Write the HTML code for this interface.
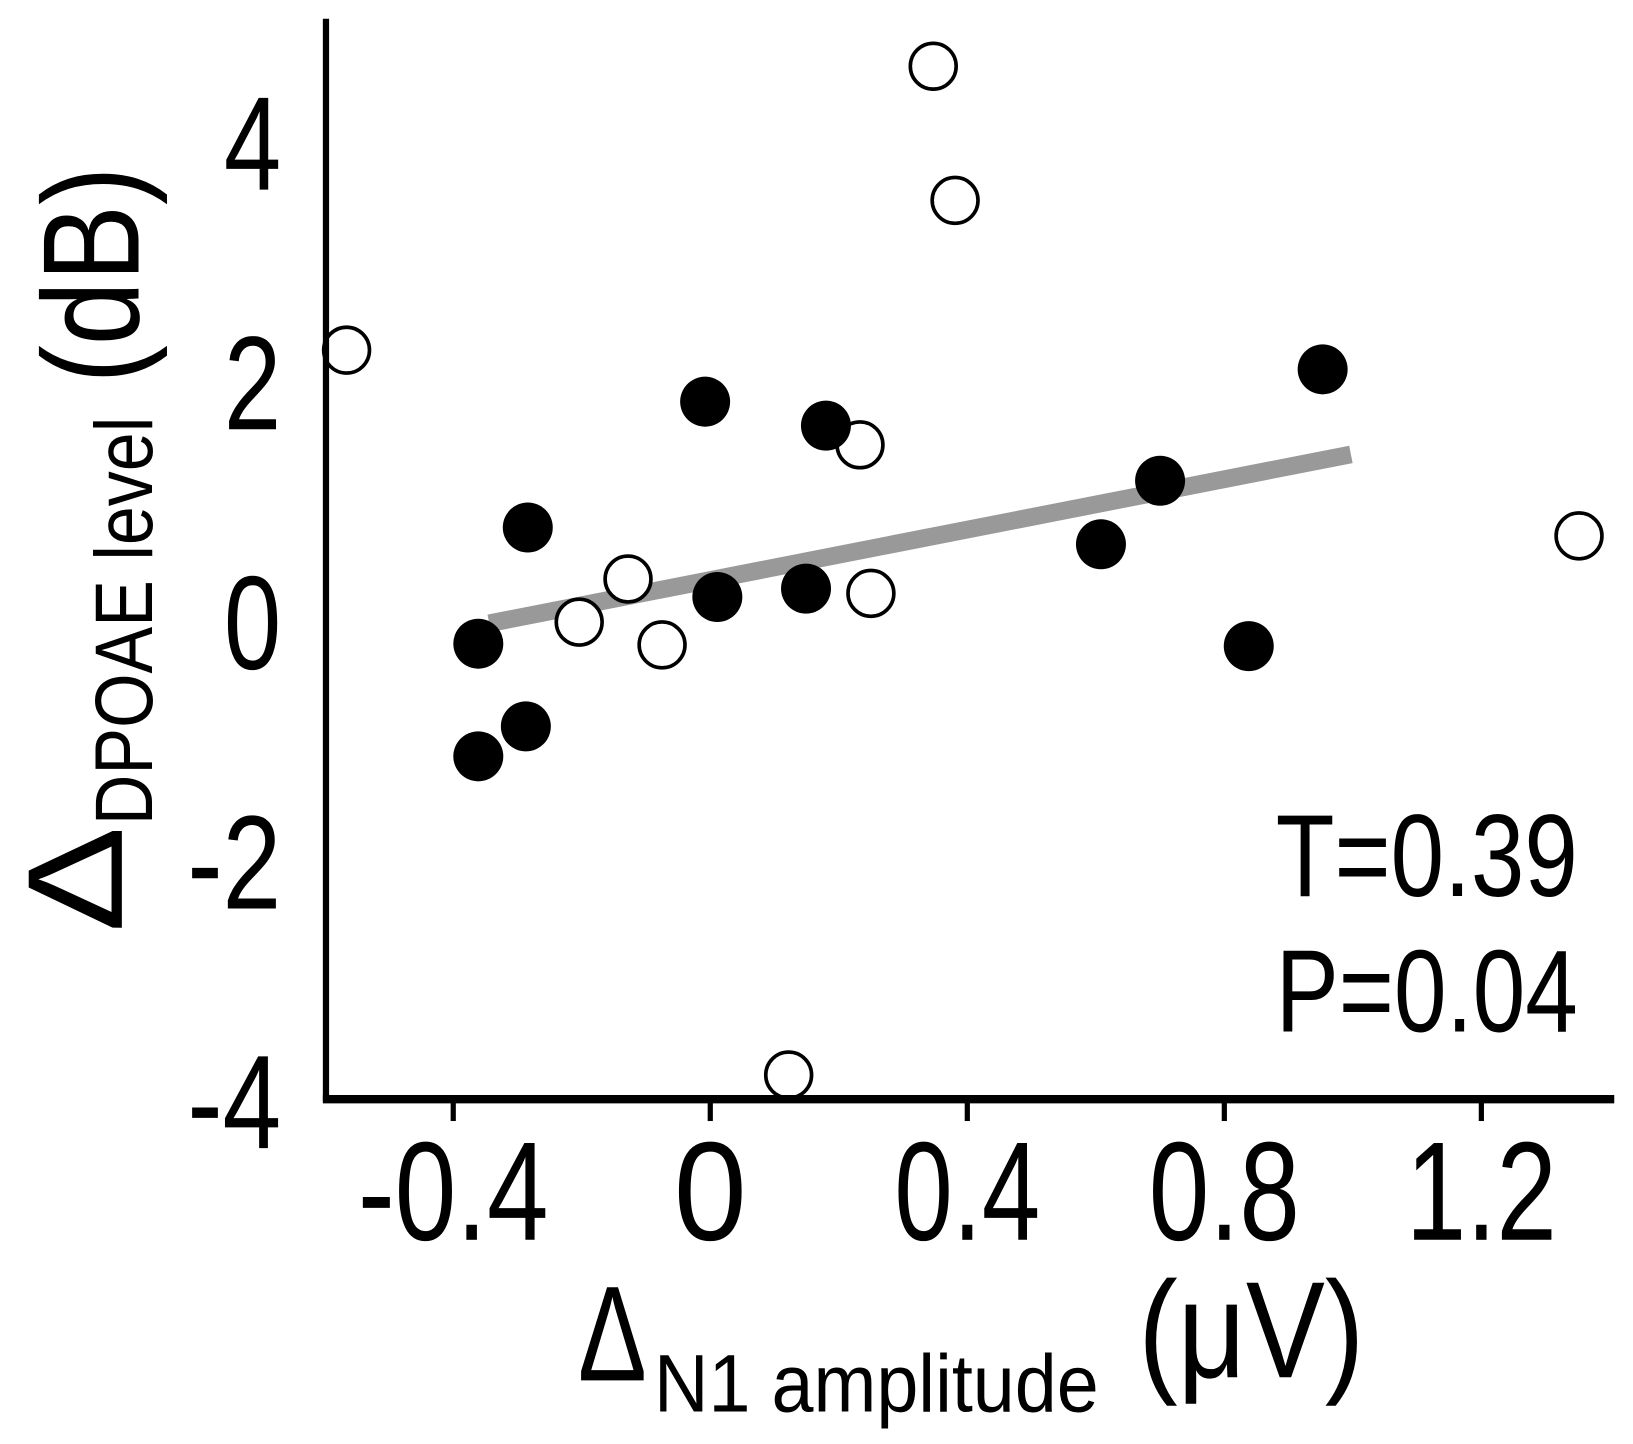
<!DOCTYPE html>
<html><head><meta charset="utf-8"><style>html,body{margin:0;padding:0;background:#fff}svg{display:block}text{font-family:"Liberation Sans",sans-serif;fill:#000}</style></head>
<body>
<svg id="chart" width="1633" height="1444" viewBox="0 0 1568 1386" preserveAspectRatio="none" xmlns="http://www.w3.org/2000/svg">
<rect width="1568" height="1386" fill="#fff"/>
<g id="marks"></g>
<g id="axes"></g>
</svg>
<script>
const xTicks=[-0.4,0,0.4,0.8,1.2];
const xTickLabels=["-0.4","0","0.4","0.8","1.2"];
const yTicks=[4,2,0,-2,-4];
const yTickLabels=["4","2","0","-2","-4"];
const openX=[-0.566,0.347,0.381,0.233,-0.128,-0.204,-0.075,0.25,1.352,0.122];
const openY=[2.26,4.63,3.51,1.47,0.35,-0.01,-0.2,0.23,0.71,-3.79];
const filledX=[-0.361,-0.361,-0.287,-0.284,-0.008,0.011,0.149,0.18,0.608,0.7,0.838,0.953];
const filledY=[-0.19,-1.13,-0.88,0.78,1.83,0.2,0.27,1.63,0.64,1.17,-0.21,2.1];
const fitX=[-0.344,0.997];
const fitY=[-0.02,1.39];

const NS="http://www.w3.org/2000/svg";
function X(v){return 682+v*617;}
function Y(v){return 596-v*115;}
const marks=document.getElementById('marks');
const axes=document.getElementById('axes');
function mk(tag,attrs,parent,txt){const e=document.createElementNS(NS,tag);for(const k in attrs)e.setAttribute(k,attrs[k]);if(txt!==undefined)e.textContent=txt;parent.appendChild(e);return e;}

let yl=mk('line',{x1:313,y1:18,x2:313,y2:1057,stroke:'#000','stroke-width':6},axes);


let xl=mk('line',{x1:310,y1:1055,x2:1550,y2:1055,stroke:'#000','stroke-width':8},axes);


const xw=[183,70,140,145,145];
xTicks.forEach((t,i)=>{
  let l=mk('line',{x1:X(t),y1:1055,x2:X(t),y2:1076,stroke:'#000','stroke-width':5},axes);
  
  
  let tx=mk('text',{x:X(t),y:1190,'font-size':135,'text-anchor':'middle',textLength:xw[i],lengthAdjust:'spacingAndGlyphs'},axes,xTickLabels[i]);
  
  
});
yTicks.forEach((t,i)=>{
  let tx=mk('text',{x:270,y:Y(t)+46,'font-size':128,'text-anchor':'end',textLength:yTickLabels[i].length>1?90:55,lengthAdjust:'spacingAndGlyphs'},axes,yTickLabels[i]);
  
  
});

let fl=mk('line',{x1:X(fitX[0]),y1:Y(fitY[0]),x2:X(fitX[1]),y2:Y(fitY[1]),stroke:'#999','stroke-width':17},marks);


openX.forEach((v,i)=>{
  let c=mk('circle',{cx:X(v),cy:Y(openY[i]),r:22,fill:'#fff',stroke:'#000','stroke-width':3.5},marks);
  
  
});
filledX.forEach((v,i)=>{
  let c=mk('circle',{cx:X(v),cy:Y(filledY[i]),r:24,fill:'#000'},marks);
  
  
});
</script>
<svg style="position:absolute;left:0;top:0" width="1633" height="1444" viewBox="0 0 1568 1386" preserveAspectRatio="none" xmlns="http://www.w3.org/2000/svg">
<text x="1225" y="860" font-size="112" textLength="290" lengthAdjust="spacingAndGlyphs" style="font-family:'Liberation Sans',sans-serif">T=0.39</text>
<text x="1225" y="990" font-size="112" textLength="290" lengthAdjust="spacingAndGlyphs" style="font-family:'Liberation Sans',sans-serif">P=0.04</text>
<g style="font-family:'Liberation Sans',sans-serif">
<text x="555" y="1325" font-size="130" textLength="66" lengthAdjust="spacingAndGlyphs">Δ</text>
<text x="628" y="1355" font-size="78" textLength="427" lengthAdjust="spacingAndGlyphs">N1 amplitude</text>
<text x="1093" y="1322" font-size="132" textLength="217" lengthAdjust="spacingAndGlyphs">(μV)</text>
</g>
<g style="font-family:'Liberation Sans',sans-serif">
<text transform="translate(117,895) rotate(-90)" font-size="130" textLength="102" lengthAdjust="spacingAndGlyphs">Δ</text>
<text transform="translate(146,792) rotate(-90)" font-size="78" textLength="392" lengthAdjust="spacingAndGlyphs">DPOAE level</text>
<text transform="translate(133,368) rotate(-90)" font-size="132" textLength="208" lengthAdjust="spacingAndGlyphs">(dB)</text>
</g>
</svg>
</body></html>
